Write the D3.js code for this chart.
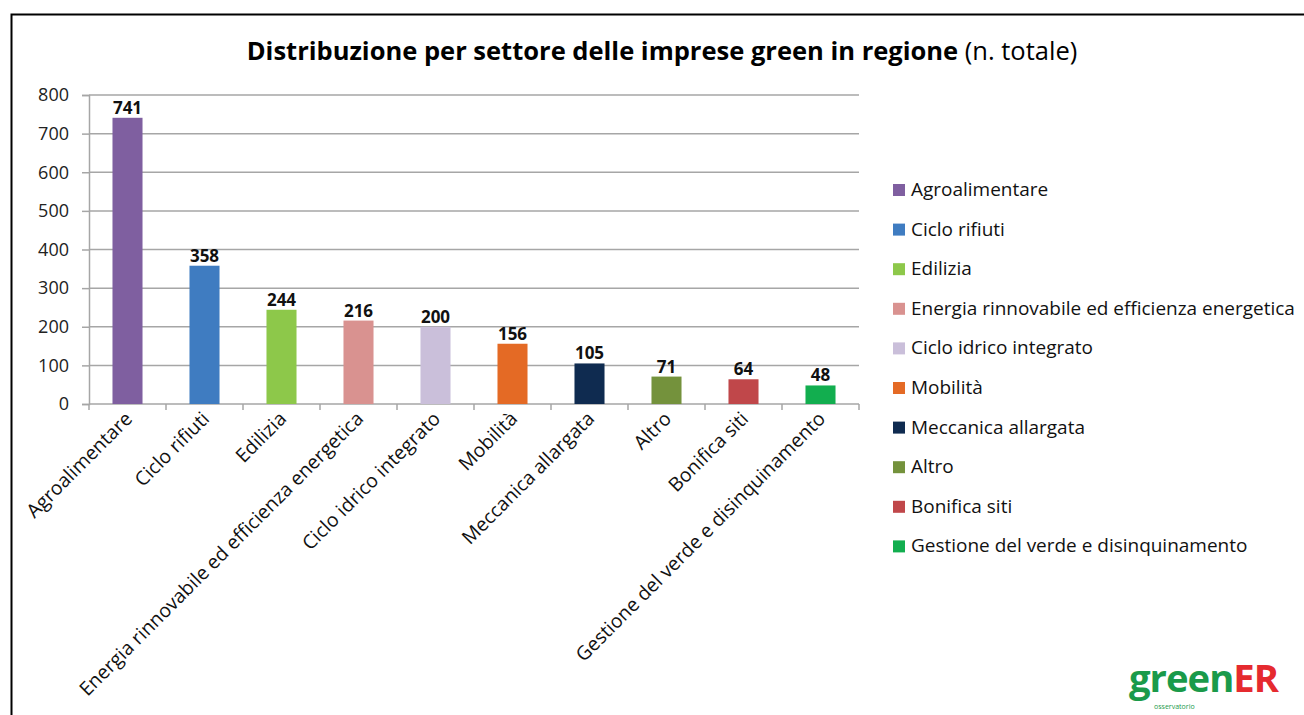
<!DOCTYPE html>
<html>
<head>
<meta charset="utf-8">
<script src="https://cdn.jsdelivr.net/npm/d3@7"></script>
<style>
  body { margin: 0; background: #fff; }
  text { font-family: "Open Sans", Lato, sans-serif; }
</style>
</head>
<body>
<svg id="chart" width="1304" height="715"></svg>
<script>
// data
const categories = ["Agroalimentare", "Ciclo rifiuti", "Edilizia", "Energia rinnovabile ed efficienza energetica",
  "Ciclo idrico integrato", "Mobilità", "Meccanica allargata", "Altro", "Bonifica siti",
  "Gestione del verde e disinquinamento"];
const values = [741, 358, 244, 216, 200, 156, 105, 71, 64, 48];
const colors = ["#7F5FA0", "#3F7CC1", "#8DC84A", "#D99290", "#CABFDA", "#E46A25", "#0F2B50", "#74923C", "#C0474A", "#12AE4F"];
const yTicks = [0, 100, 200, 300, 400, 500, 600, 700, 800];

const svg = d3.select("#chart");

const plot = {left: 89, right: 859, top: 95, bottom: 404};

// shrink/grow a text so it spans the wanted width
function fitWidth(sel, size, width) {
  sel.style("font-size", size + "px");
  const w = sel.node().getComputedTextLength();
  sel.style("font-size", (size * width / w).toFixed(2) + "px");
  return size * width / w;
}

// frame
svg.append("path")
    .attr("d", "M11.5,715 V14.5 H1304")
    .attr("fill", "none")
    .attr("stroke", "#000")
    .attr("stroke-width", 2);

// title
const title = svg.append("text")
    .attr("x", 662)
    .attr("y", 60)
    .attr("text-anchor", "middle")
    .attr("fill", "#000");
title.append("tspan").attr("font-weight", "bold").text("Distribuzione per settore delle imprese green in regione");
title.append("tspan").text(" (n. totale)");
fitWidth(title, 23, 831);

const x = d3.scaleBand()
    .domain(categories)
    .range([plot.left, plot.right])
    .paddingInner(0.61)
    .paddingOuter(0.305);

const y = d3.scaleLinear()
    .domain([0, 800])
    .range([plot.bottom, plot.top]);

// gridlines
svg.append("g")
    .selectAll("line")
    .data(yTicks.filter(d => d > 0))
    .join("line")
    .attr("x1", plot.left)
    .attr("x2", plot.right)
    .attr("y1", d => y(d))
    .attr("y2", d => y(d))
    .attr("stroke", "#A6A6A6")
    .attr("stroke-width", 1.5);

// y axis
const yAxis = svg.append("g")
    .attr("transform", "translate(" + plot.left + ",0)")
    .call(d3.axisLeft(y).tickValues(yTicks).tickSize(7).tickPadding(13));
yAxis.select(".domain").attr("stroke", "#A6A6A6").attr("stroke-width", 1.5);
yAxis.selectAll(".tick line").attr("stroke", "#A6A6A6").attr("stroke-width", 1.5);
yAxis.selectAll(".tick text")
    .style("font-size", "18px")
    .style("font-family", "'Open Sans', Lato, sans-serif")
    .attr("fill", "#222");

// x axis line and ticks at category boundaries
const step = x.step();
const bounds = d3.range(categories.length + 1).map(i => plot.left + i * step);
svg.append("line")
    .attr("x1", plot.left).attr("x2", plot.right)
    .attr("y1", plot.bottom).attr("y2", plot.bottom)
    .attr("stroke", "#A6A6A6").attr("stroke-width", 1.5);
svg.append("g")
    .selectAll("line")
    .data(bounds)
    .join("line")
    .attr("x1", d => d).attr("x2", d => d)
    .attr("y1", plot.bottom).attr("y2", plot.bottom + 6)
    .attr("stroke", "#A6A6A6").attr("stroke-width", 1.5);

// bars
svg.append("g")
    .selectAll("rect")
    .data(categories)
    .join("rect")
    .attr("x", d => x(d))
    .attr("width", x.bandwidth())
    .attr("y", (d, i) => y(values[i]))
    .attr("height", (d, i) => y(0) - y(values[i]))
    .attr("fill", (d, i) => colors[i]);

// value labels
svg.append("g")
    .selectAll("text")
    .data(categories)
    .join("text")
    .attr("x", d => x(d) + x.bandwidth() / 2)
    .attr("y", (d, i) => y(values[i]) - 4)
    .attr("text-anchor", "middle")
    .attr("font-weight", "bold")
    .style("font-size", "17px")
    .attr("fill", "#111")
    .text((d, i) => values[i]);

// legend, size taken from the longest entry
const legend = svg.append("g")
    .attr("transform", "translate(893,190)");
const rows = legend.selectAll("g")
    .data(categories)
    .join("g")
    .attr("transform", (d, i) => "translate(0," + (i * 39.6) + ")");
rows.append("rect")
    .attr("x", 0).attr("y", -6)
    .attr("width", 12).attr("height", 12)
    .attr("fill", (d, i) => colors[i]);
const legendText = rows.append("text")
    .attr("x", 18)
    .attr("y", 6)
    .attr("fill", "#111")
    .text(d => d);
const labelSize = fitWidth(legendText.filter((d, i) => i === 3), 17, 384);
legendText.style("font-size", labelSize.toFixed(2) + "px");

// category labels, rotated
svg.append("g")
    .selectAll("text")
    .data(categories)
    .join("text")
    .attr("transform", d => "translate(" + (x(d) + x.bandwidth() / 2 + 6) + "," + (plot.bottom + 16) + ") rotate(-45)")
    .attr("text-anchor", "end")
    .style("font-size", (labelSize * 1.02).toFixed(2) + "px")
    .attr("fill", "#111")
    .text(d => d);

// logo
const logo = svg.append("text")
    .attr("x", 1129)
    .attr("y", 692)
    .attr("font-weight", "bold")
    .style("letter-spacing", "-1px");
logo.append("tspan").attr("fill", "#1A9A4A").text("green");
logo.append("tspan").attr("fill", "#E52A2F").text("ER");
fitWidth(logo, 38, 149);
svg.append("text")
    .attr("x", 1154)
    .attr("y", 709)
    .style("font-size", "7px")
    .attr("fill", "#1A9A4A")
    .text("osservatorio");
</script>
</body>
</html>
